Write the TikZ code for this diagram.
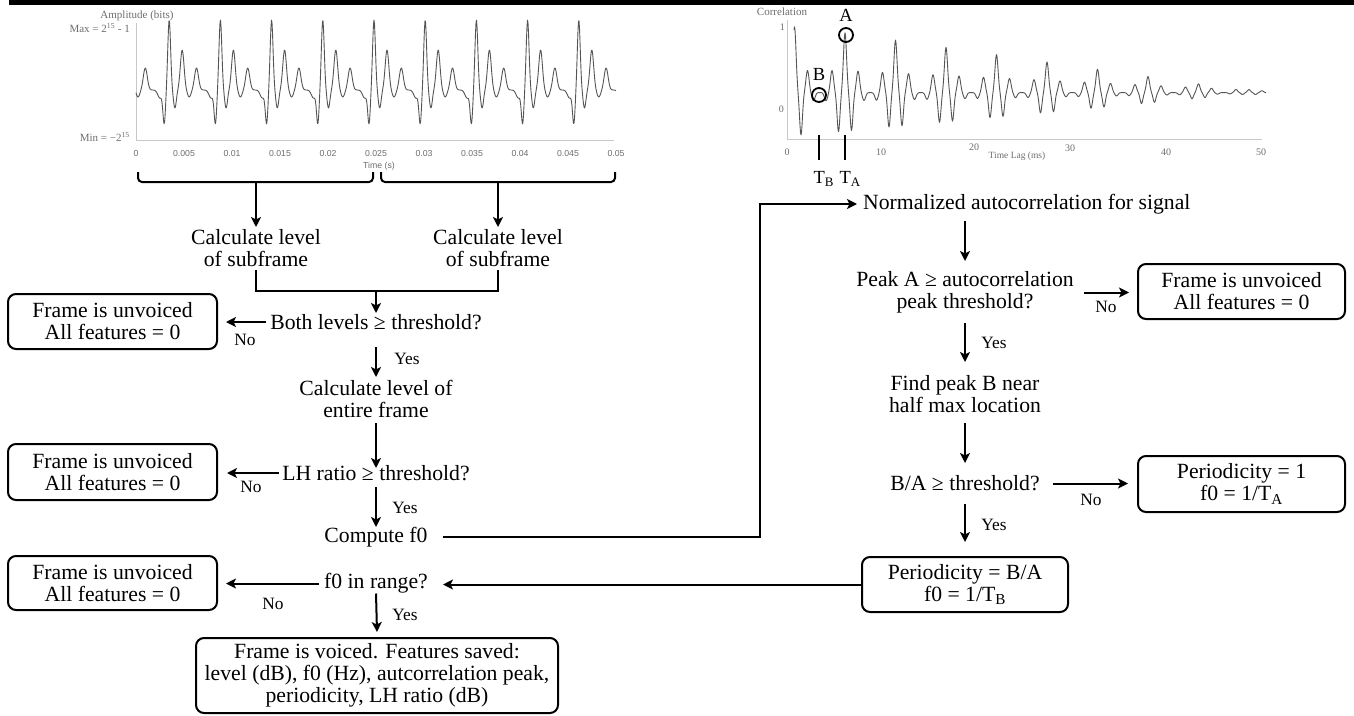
\documentclass[tikz,border=0pt]{standalone}
\usepackage{fontspec}
\setmainfont{Liberation Serif}
\setsansfont{Liberation Sans}
\usetikzlibrary{arrows.meta,calc}
\definecolor{axisgray}{HTML}{C8C8C8}
\definecolor{tickgray}{HTML}{6E6E6E}
\definecolor{curvegray}{HTML}{555555}
\begin{document}
\begin{tikzpicture}[x=1pt,y=-1pt,
  declare function={
    gs(\gu,\gc,\gw)=exp(-((\gu-\gc)/\gw)^2);
    wu(\gx)=mod(\gx-102,51.2)-16;
    wv(\gu)=90-(70*gs(\gu,0,2)-18*gs(\gu,5.7,2)+40*gs(\gu,13,2.6)-7*gs(\gu,20,2.5)+22*gs(\gu,27.3,2.8)-33*gs(\gu,-5,1.8)-8*gs(\gu,-9.3,3));
    cu(\gx)=mod(\gx-718.75,50.5)-25.25;
    ce(\gx)=min(1.1,max(0.05,(1259-\gx)/414));
    cf(\gx)=min(1,max(0.06,(1300-\gx)/455));
    cs(\gu)=0.73*gs(\gu,0,2.2)-0.47*(gs(\gu,6.5,2)+gs(\gu,-6.5,2));
    ct(\gu)=0.27*(gs(\gu,13,2.2)+gs(\gu,-13,2.2))-0.1*(gs(\gu,19,2.2)+gs(\gu,-19,2.2));
    cv(\gx)=109-82*(0.2+ce(\gx)*cs(cu(\gx))+cf(\gx)*ct(cu(\gx)));
  }]
\tikzset{
  txt/.style={font=\fontsize{21.7}{22}\selectfont, align=center, inner sep=0pt},
  lbl/.style={font=\fontsize{17.3}{18}\selectfont, inner sep=0pt},
  fbox/.style={txt, draw, line width=2pt, rounded corners=8pt},
  arr/.style={line width=2pt, -{Stealth[length=10pt,width=10pt,inset=2.5pt]}},
  ln/.style={line width=2pt},
  axisline/.style={draw=axisgray, line width=1pt},
  tickl/.style={font=\sffamily\fontsize{8.7}{9}\selectfont, text=tickgray, inner sep=0pt},
  plab/.style={font=\fontsize{11}{12}\selectfont, text=tickgray, inner sep=0pt},
  clab/.style={font=\fontsize{10}{11}\selectfont, text=tickgray, inner sep=0pt},
  big/.style={font=\fontsize{18.5}{19}\selectfont, inner sep=0pt},
  curve/.style={draw=curvegray, line width=0.9pt, line join=round},
  ringmark/.style={line width=1.8pt},
}
\useasboundingbox (0,0) rectangle (1354,715);
\fill[white] (0,0) rectangle (1354,715);
\fill[black] (9,0) rectangle (1354,5);

% ---------- left plot ----------
\draw[axisline] (136,23) -- (136,140) -- (614,140);
\draw[curve] plot[domain=136:616,samples=961] (\x,{wv(wu(\x))});
\node[plab] (amp) at (137,16) {Amplitude (bits)};
\node[plab, anchor=east] (ymax) at (130,28) {Max = 2\textsuperscript{15} - 1};
\node[plab, anchor=east] (ymin) at (130,137) {Min = −2\textsuperscript{15}};
\foreach \v [count=\i from 0] in {0,0.005,0.01,0.015,0.02,0.025,0.03,0.035,0.04,0.045,0.05}
  \node[tickl] (tx\i) at (136+48*\i,154) {\v};
\node[tickl] (tlab) at (379,166) {Time (s)};

% braces
\coordinate (bl1) at (138,172); \coordinate (bl2) at (373,172);
\coordinate (br1) at (381,172); \coordinate (br2) at (615,172);
\coordinate (tipL) at (256,182); \coordinate (tipR) at (498,182);
\draw[ln, rounded corners=4pt] (bl1) -- ++(0,10) -- ($(bl2)+(0,10)$) -- (bl2);
\draw[ln, rounded corners=4pt] (br1) -- ++(0,10) -- ($(br2)+(0,10)$) -- (br2);

% ---------- right plot ----------
\draw[axisline] (787,20) -- (787,139) -- (1262,139);
\draw[curve] plot[domain=794:1266,samples=945] (\x,{cv(\x)});
\node[plab] (corr) at (782,12) {Correlation};
\node[clab, anchor=east] (c1) at (785,27) {1};
\node[clab, anchor=east] (c0) at (784,109) {0};
\node[clab] (l0) at (787,152) {0};
\node[clab] (l10) at (881,152) {10};
\node[clab] (l20) at (974,147) {20};
\node[clab] (l30) at (1070,148) {30};
\node[clab] (l40) at (1166,152) {40};
\node[clab] (l50) at (1261,152) {50};
\node[font=\fontsize{9.5}{10}\selectfont, text=tickgray, inner sep=0pt] (lag) at (1017,156) {Time Lag (ms)};
\node[big] (la) at (846,15) {A};
\draw[ringmark] (846,35) circle (7);
\node[big] (lb) at (819,74) {B};
\draw[ringmark] (819,95) circle (7);
\draw[line width=2pt] (819,135) -- (819,160);
\draw[line width=2pt] (845,135) -- (845,160);
\node[big, anchor=west] (tb) at (813.4,179) {T\textsubscript{B}};
\node[big, anchor=west] (ta) at (839.4,179) {T\textsubscript{A}};

% ---------- left flow ----------
\node[txt] (calc1) at (256,248) {Calculate level\\of subframe};
\node[txt] (calc2) at (498,248) {Calculate level\\of subframe};
\node[txt] (both) at (376,322) {Both levels ≥ threshold?};
\node[fbox, minimum width=209pt, minimum height=55pt] (box1) at (112.5,321.5) {Frame is unvoiced\\All features = 0};
\node[txt] (calcE) at (376,398.5) {Calculate level of\\entire frame};
\node[txt] (LH) at (376,473) {LH ratio ≥ threshold?};
\node[fbox, minimum width=209pt, minimum height=56pt] (box2) at (112.5,472) {Frame is unvoiced\\All features = 0};
\node[txt] (comp) at (376,537) {Compute f0};
\node[txt] (f0r) at (376,583.5) {f0 in range?};
\node[fbox, minimum width=209pt, minimum height=54pt] (box3) at (112.5,583) {Frame is unvoiced\\All features = 0};
\node[fbox, minimum width=362pt, minimum height=75pt] (final) at (377,675.5) {Frame is voiced. Features saved:\\level (dB), f0 (Hz), autcorrelation peak,\\periodicity, LH ratio (dB)};

% ---------- right flow ----------
\node[txt, anchor=west] (norm) at (863,204) {Normalized autocorrelation for signal};
\node[txt] (peakA) at (965,292.5) {Peak A ≥ autocorrelation\\peak threshold?};
\node[fbox, minimum width=207pt, minimum height=55pt] (boxA) at (1241.5,291.5) {Frame is unvoiced\\All features = 0};
\node[txt] (findB) at (965,394) {Find peak B near\\half max location};
\node[txt] (BA) at (965,483.5) {B/A ≥ threshold?};
\node[fbox, minimum width=207pt, minimum height=56pt] (box1T) at (1241.5,484) {Periodicity = 1\\f0 = 1/T\textsubscript{A}};
\node[fbox, minimum width=206pt, minimum height=55pt] (boxBA) at (965,584.5) {Periodicity = B/A\\f0 = 1/T\textsubscript{B}};

% ---------- connectors ----------
\draw[arr] (tipL) -- ($(calc1)+(0,-21)$);
\draw[arr] (tipR) -- ($(calc2)+(0,-21)$);
\draw[ln] ($(calc1)+(0,22)$) -- ($(calc1)+(0,43)$) -| ($(calc2)+(0,22)$);
\draw[arr] ($(both|-calc1)+(0,43)$) -- ($(both)+(0,-9)$);
\draw[arr] ($(both.west)+(-4,0)$) -- ($(box1.east|-both.west)+(8,0)$);
\draw[arr] ($(both)+(0,25)$) -- ($(calcE)+(0,-21.5)$);
\draw[arr] ($(calcE)+(0,24.5)$) -- ($(LH)+(0,-5)$);
\draw[arr] ($(LH.west)+(-3,0)$) -- ($(box2.east|-LH.west)+(9,0)$);
\draw[arr] ($(LH)+(0,14)$) -- ($(comp)+(0,-10)$);
\draw[arr] ($(comp.east)+(15,0)$) -| ($(norm.west)+(-103,0)$) -- ($(norm.west)+(-6,0)$);
\draw[arr] ($(peakA|-norm)+(0,17)$) -- ($(peakA)+(0,-31.5)$);
\draw[arr] ($(peakA.east)+(10.5,0)$) -- ($(boxA.west|-peakA.east)+(-8,0)$);
\draw[arr] ($(peakA)+(0,30.5)$) -- ($(findB)+(0,-32)$);
\draw[arr] ($(findB)+(0,29)$) -- ($(BA)+(0,-20.5)$);
\draw[arr] ($(BA.east)+(13,0)$) -- ($(box1T.west|-BA.east)+(-9,0)$);
\draw[arr] ($(BA)+(0,20)$) -- ($(boxBA.north)+(0,-14)$);
\draw[arr] (boxBA.west) -- ($(f0r.east|-boxBA.west)+(15,0)$);
\draw[arr] ($(f0r.west)+(-5,0)$) -- ($(box3.east|-f0r.west)+(8,0)$);
\draw[arr] ($(f0r)+(0,10)$) -- ($(final.north)+(0,-5)$);

% ---------- labels ----------
\node[lbl] (no1) at (245,340) {No};
\node[lbl] (no2) at (251,487) {No};
\node[lbl] (no3) at (273,604) {No};
\node[lbl] (no4) at (1106,307) {No};
\node[lbl] (no5) at (1091,500) {No};
\node[lbl] (yes1) at (407,359) {Yes};
\node[lbl] (yes2) at (405,508) {Yes};
\node[lbl] (yes3) at (405,615) {Yes};
\node[lbl] (yes4) at (994,343) {Yes};
\node[lbl] (yes5) at (994,525) {Yes};
\end{tikzpicture}
\end{document}
